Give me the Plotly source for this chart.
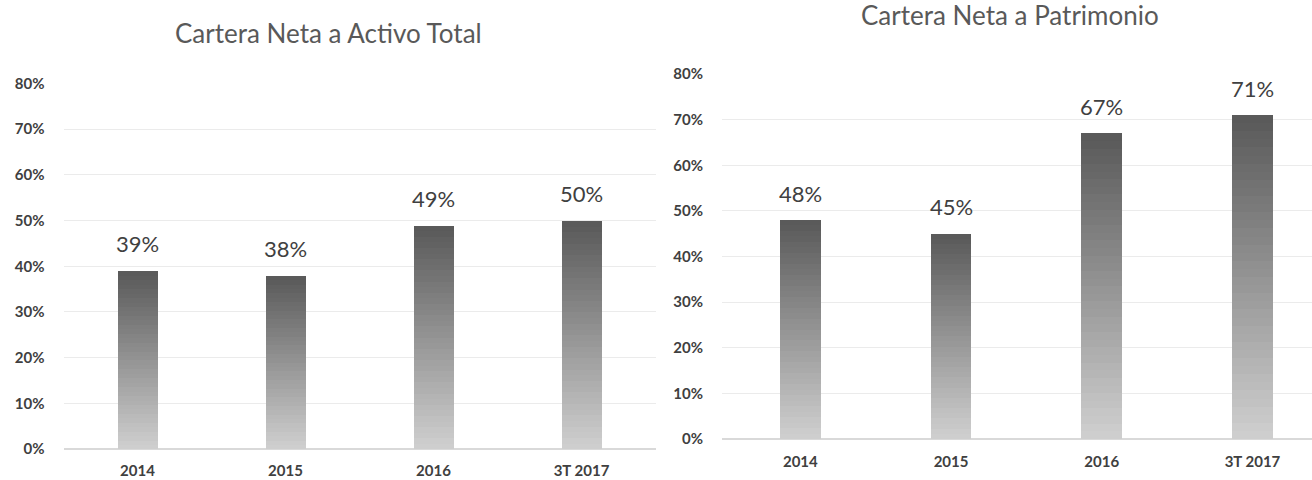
import plotly.graph_objects as go

categories = ["2014", "2015", "2016", "3T 2017"]
activo_total = [39, 38, 49, 50]
patrimonio = [48, 45, 67, 71]
title_left = "Cartera Neta a Activo Total"
title_right = "Cartera Neta a Patrimonio"
y_ticks = [0, 10, 20, 30, 40, 50, 60, 70, 80]
y_tick_labels = [f"{v}%" for v in y_ticks]

N_SEG = 40
TOP = (88, 88, 88)
BOTTOM = (208, 208, 208)


def seg_color(k):
    t = (k + 0.5) / N_SEG
    c = [round(BOTTOM[i] + (TOP[i] - BOTTOM[i]) * t) for i in range(3)]
    return "rgb(%d,%d,%d)" % tuple(c)


fig = go.Figure()
for values, xa, ya in [(activo_total, "x", "y"), (patrimonio, "x2", "y2")]:
    for k in range(N_SEG):
        fig.add_trace(go.Bar(
            x=categories, y=[v / N_SEG for v in values],
            xaxis=xa, yaxis=ya, width=0.27,
            marker=dict(color=seg_color(k), line=dict(width=0)),
            showlegend=False, hoverinfo="skip",
        ))
    for i, v in enumerate(values):
        fig.add_annotation(x=i, y=v, xref=xa, yref=ya, text=f"{v}%",
                           showarrow=False, yanchor="middle", yshift=27,
                           font=dict(family="Lato", size=22, color="#404040"))

font_tick = dict(family="Lato", size=15, color="#404040", weight="bold")
common_y = dict(range=[0, 80], tickmode="array", tickvals=y_ticks, ticktext=y_tick_labels,
                showgrid=True, gridcolor="#ebebeb", gridwidth=1, zeroline=True,
                zerolinecolor="#d9d9d9", zerolinewidth=1.5, tickfont=font_tick,
                ticklabelstandoff=18, showline=False, ticks="", automargin=False)
common_x = dict(type="category", showgrid=False, zeroline=False, showline=False,
                tickfont=font_tick, ticks="", automargin=False)

fig.update_layout(
    width=1312, height=480, barmode="stack", bargap=0,
    paper_bgcolor="white", plot_bgcolor="white",
    margin=dict(l=0, r=0, t=0, b=0, autoexpand=False),
    xaxis=dict(domain=[63.5 / 1312, 655.5 / 1312], range=[-0.5, 3.5], anchor="y",
               ticklabelstandoff=11, **common_x),
    yaxis=dict(domain=[31 / 480, 396.5 / 480], anchor="x", **common_y),
    xaxis2=dict(domain=[722 / 1312, 1.0], range=[-0.52, 3.395], anchor="y2",
                ticklabelstandoff=12, **common_x),
    yaxis2=dict(domain=[41 / 480, 406 / 480], anchor="x2", **common_y),
)

fig.add_annotation(text=title_left, x=329 / 1312, y=1 - 33 / 480, xref="paper", yref="paper",
                   showarrow=False, xanchor="center", yanchor="middle",
                   font=dict(family="Lato", size=26, color="#595959"))
fig.add_annotation(text=title_right, x=1010 / 1312, y=1 - 15 / 480, xref="paper", yref="paper",
                   showarrow=False, xanchor="center", yanchor="middle",
                   font=dict(family="Lato", size=26, color="#595959"))

fig.write_html("out.html", config={"displayModeBar": False},
               post_script="document.body.style.margin='0';document.body.style.overflow='hidden';")
